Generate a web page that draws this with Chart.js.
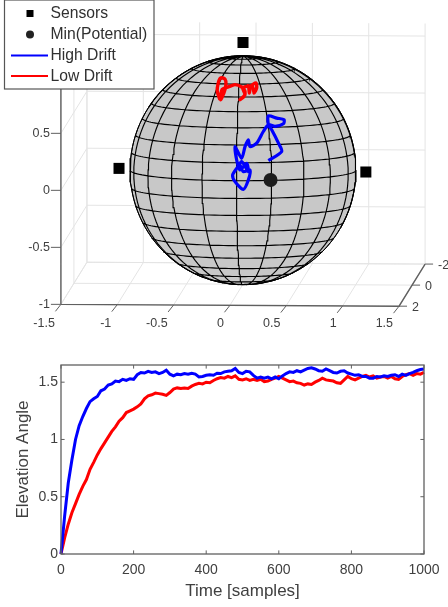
<!DOCTYPE html>
<html>
<head>
<meta charset="utf-8">
<script src="https://cdn.jsdelivr.net/npm/chart.js@4/dist/chart.umd.js"></script>
<style>
  html, body { margin: 0; background: #fff; }
  canvas { position: absolute; left: 0; }
  #sphereChart { top: 0; }
  #elevChart { top: 340px; }
</style>
</head>
<body>
<canvas id="sphereChart" width="448" height="340"></canvas>
<canvas id="elevChart" width="448" height="267"></canvas>
<script>
// Top panel: axis ticks
const X_TICKS = [-1.5, -1, -0.5, 0, 0.5, 1, 1.5];
const Y_TICKS = [-2, 0, 2];
const Z_TICKS = [-1, -0.5, 0, 0.5, 1];
const Z_TOP = 1.11;

// Mesh spacing of the sphere, degrees
const MERIDIAN_LONS = [-180,-162,-144,-126,-108,-90,-72,-54,-36,-18,0,18,36,54,72,90,108,126,144,162];
const PARALLEL_LATS = [-81,-72,-63,-54,-45,-36,-27,-18,-9,0,9,18,27,36,45,54,63,72,81];

// Sensors as x, y, z
const SENSOR_X = [-1.1, 0, 1.09];
const SENSOR_Y = [0, 0, 0];
const SENSOR_Z = [0.01, 1.12, -0.01];

// Paths on the sphere, read in the view plane
const HIGH_PATH_U = [.225,.343,.314,.254,.225,.225,.299,.364,.358,.284,.225,.180,.121,.062,.047,.018,-.012,-.071,-.056,-.027,.033,.047,-.012,-.056,-.092,-.071,.003,.047,.062,.003,-.027];
const HIGH_PATH_V = [.084,.163,.236,.353,.397,.475,.455,.440,.405,.382,.397,.338,.236,.206,.265,.206,.104,.206,.089,.002,.060,-.013,.075,.016,-.042,-.100,-.168,-.086,.002,-.013,.046];
const LOW_PATH_U = [-.204,-.228,-.219,-.198,-.160,-.151,-.169,-.198,-.186,-.130,-.071,-.012,.018,.009,-.027,.018,-.003,.047,.056,.068,.115,.121,.098,.086,.033];
const LOW_PATH_V = [.616,.689,.762,.806,.797,.747,.674,.616,.703,.727,.747,.727,.689,.645,.616,.660,.718,.733,.674,.733,.762,.718,.674,.727,.739];
const MIN_U = [0.244];
const MIN_V = [-0.086];

const LEGEND_LABELS = ["Sensors", "Min(Potential)", "High Drift", "Low Drift"];

// Bottom panel: one value every 10 samples
const SAMPLE_STEP = 10;
const HIGH_DRIFT = [0,.33,.62,.82,1.00,1.12,1.20,1.27,1.33,1.355,1.375,1.425,1.44,1.475,1.485,1.51,1.505,1.525,1.515,1.53,1.525,
  1.565,1.585,1.58,1.595,1.585,1.59,1.575,1.585,1.605,1.57,1.555,1.57,1.565,1.575,1.57,1.578,1.57,1.545,1.55,1.56,
  1.565,1.56,1.578,1.575,1.59,1.595,1.60,1.62,1.585,1.575,1.595,1.59,1.56,1.535,1.545,1.535,1.545,1.53,1.545,1.53,
  1.555,1.575,1.59,1.585,1.60,1.59,1.605,1.62,1.625,1.615,1.60,1.595,1.615,1.60,1.585,1.58,1.595,1.60,1.58,1.57,
  1.56,1.565,1.55,1.55,1.535,1.535,1.55,1.545,1.555,1.55,1.56,1.565,1.55,1.57,1.56,1.575,1.585,1.60,1.61,1.615];
const LOW_DRIFT = [0,.14,.26,.36,.44,.52,.59,.65,.74,.80,.865,.92,.97,1.02,1.07,1.11,1.16,1.19,1.235,1.25,1.265,
  1.285,1.31,1.355,1.38,1.39,1.405,1.40,1.395,1.385,1.41,1.44,1.45,1.445,1.45,1.445,1.465,1.48,1.49,1.485,1.50,
  1.495,1.515,1.53,1.54,1.535,1.55,1.54,1.555,1.525,1.52,1.53,1.515,1.525,1.515,1.525,1.505,1.51,1.525,1.535,1.55,
  1.535,1.52,1.505,1.51,1.495,1.49,1.475,1.485,1.48,1.50,1.515,1.535,1.52,1.515,1.51,1.495,1.49,1.52,1.55,1.53,
  1.52,1.535,1.55,1.56,1.545,1.555,1.535,1.545,1.55,1.535,1.55,1.53,1.525,1.55,1.565,1.575,1.56,1.575,1.57,1.585];
const TIME_TICKS = [0, 200, 400, 600, 800, 1000];
const ELEV_TICKS = [0, 0.5, 1, 1.5];

const FONT = '"Liberation Sans", Arial, sans-serif';
const TEXT_COLOR = "#404040";
const AXIS_COLOR = "#606060";
const GRID_COLOR = "#e4e4e4";

// MATLAB style orthographic view
const SA = 0.0577, CA = Math.sqrt(1 - SA * SA);
const SE = 0.0921, CE = Math.sqrt(1 - SE * SE);

function project(x, y, z) {
  return { x: x * CA - y * SA, y: -x * SA * SE - y * CA * SE + z * CE };
}
function facing(x, y, z) {
  return x * SA * CE + y * CA * CE + z * SE > 0;
}
const GAP = { x: NaN, y: NaN };
const rad = d => d * Math.PI / 180;

function meshPoints() {
  const pts = [];
  const add = (x, y, z) => {
    if (facing(x, y, z)) pts.push(project(x, y, z));
    else if (pts.length && !isNaN(pts[pts.length - 1].x)) pts.push(GAP);
  };
  MERIDIAN_LONS.forEach(lon => {
    for (let lat = -90; lat <= 90; lat += 3)
      add(Math.cos(rad(lat)) * Math.cos(rad(lon)), Math.cos(rad(lat)) * Math.sin(rad(lon)), Math.sin(rad(lat)));
    pts.push(GAP);
  });
  PARALLEL_LATS.forEach(lat => {
    for (let lon = -180; lon <= 180; lon += 3)
      add(Math.cos(rad(lat)) * Math.cos(rad(lon)), Math.cos(rad(lat)) * Math.sin(rad(lon)), Math.sin(rad(lat)));
    pts.push(GAP);
  });
  return pts;
}

function outlinePoints() {
  const pts = [];
  for (let t = 0; t <= 360; t += 3) pts.push({ x: Math.cos(rad(t)), y: Math.sin(rad(t)) });
  return pts;
}

function gridPoints() {
  const xMin = X_TICKS[0], xMax = X_TICKS[X_TICKS.length - 1];
  const yBack = Y_TICKS[0], yFront = Y_TICKS[Y_TICKS.length - 1];
  const zMin = Z_TICKS[0];
  const pts = [];
  const seg = (a, b) => pts.push(project(...a), project(...b), GAP);
  X_TICKS.forEach(x => {
    seg([x, yFront, zMin], [x, yBack, zMin]);
    seg([x, yBack, zMin], [x, yBack, Z_TOP]);
  });
  Y_TICKS.forEach(y => {
    seg([xMin, y, zMin], [xMax, y, zMin]);
    seg([xMin, y, zMin], [xMin, y, Z_TOP]);
  });
  Z_TICKS.forEach(z => {
    seg([xMin, yFront, z], [xMin, yBack, z]);
    seg([xMin, yBack, z], [xMax, yBack, z]);
  });
  return pts;
}

function lineSet(data, color, width, order, extra) {
  return Object.assign({
    data, showLine: true, borderColor: color, borderWidth: width,
    pointRadius: 0, spanGaps: false, order
  }, extra || {});
}

function zip(us, vs) {
  return us.map((u, i) => ({ x: u, y: vs[i] }));
}

const xMinT = X_TICKS[0], xMaxT = X_TICKS[X_TICKS.length - 1];
const yFrontT = Y_TICKS[Y_TICKS.length - 1];
const zMinT = Z_TICKS[0];

const axes3d = [
  project(xMinT, yFrontT, zMinT), project(xMinT, yFrontT, Z_TOP), GAP,
  project(xMinT, yFrontT, zMinT), project(xMaxT, yFrontT, zMinT),
  project(xMaxT, Y_TICKS[0], zMinT)
];

// Tick marks, labels and the legend of the top panel
const sphereDecor = {
  id: "sphereDecor",
  afterDatasetsDraw(chart) {
    const { ctx, scales } = chart;
    const px = p => [scales.x.getPixelForValue(p.x), scales.y.getPixelForValue(p.y)];
    ctx.save();
    ctx.font = `12.5px ${FONT}`;
    ctx.fillStyle = TEXT_COLOR;
    ctx.strokeStyle = AXIS_COLOR;
    ctx.lineWidth = 1;
    ctx.textBaseline = "middle";
    const tick = (x0, y0, x1, y1) => {
      ctx.beginPath(); ctx.moveTo(x0, y0); ctx.lineTo(x1, y1); ctx.stroke();
    };
    ctx.textAlign = "right";
    Z_TICKS.forEach(z => {
      const [a, b] = px(project(xMinT, yFrontT, z));
      tick(a, b, a - 10, b);
      ctx.fillText(String(z), a - 11, b + 0.5);
    });
    X_TICKS.forEach(x => {
      const [a, b] = px(project(x, yFrontT, zMinT));
      tick(a, b, a - 5.5, b + 7);
      ctx.fillText(String(x), a - 6, 324);
    });
    ctx.textAlign = "left";
    Y_TICKS.forEach(y => {
      const [a, b] = px(project(xMaxT, y, zMinT));
      tick(a, b, a + 8, b);
      ctx.fillText(String(y), a + 13, b + 1);
    });
    drawLegend(ctx);
    ctx.restore();
  }
};

function drawLegend(ctx) {
  const rows = [13.5, 34.5, 55.5, 76];
  ctx.fillStyle = "#fff";
  ctx.strokeStyle = "#555";
  ctx.lineWidth = 1.2;
  ctx.fillRect(4.5, 0, 149.5, 89);
  ctx.strokeRect(4.5, 0, 149.5, 89);
  ctx.font = `15.7px ${FONT}`;
  ctx.textAlign = "left";
  ctx.textBaseline = "middle";
  LEGEND_LABELS.forEach((label, i) => {
    ctx.fillStyle = "#303030";
    ctx.fillText(label, 50.5, rows[i] + 0.5);
  });
  ctx.fillStyle = "#000";
  ctx.fillRect(26.5, rows[0] - 3.5, 7, 7);
  ctx.beginPath();
  ctx.arc(30, rows[1], 4, 0, Math.PI * 2);
  ctx.fillStyle = "#222";
  ctx.fill();
  [["#0000ff", rows[2]], ["#ff0000", rows[3]]].forEach(([c, y]) => {
    ctx.strokeStyle = c;
    ctx.lineWidth = 1.8;
    ctx.beginPath(); ctx.moveTo(11, y); ctx.lineTo(48, y); ctx.stroke();
  });
}

new Chart(document.getElementById("sphereChart"), {
  type: "scatter",
  data: {
    datasets: [
      lineSet(gridPoints(), GRID_COLOR, 1, 9),
      lineSet(axes3d, AXIS_COLOR, 1.4, 8),
      lineSet(outlinePoints(), "#000", 1, 7, { fill: "shape", backgroundColor: "#c8c8c8" }),
      lineSet(meshPoints(), "#000", 1.15, 6),
      lineSet(outlinePoints(), "#000", 1, 5),
      {
        data: SENSOR_X.map((x, i) => project(x, SENSOR_Y[i], SENSOR_Z[i])),
        pointStyle: "rect", pointRadius: 7.8, pointBackgroundColor: "#000", pointBorderWidth: 0, order: 4
      },
      lineSet(zip(LOW_PATH_U, LOW_PATH_V), "#ff0000", 3.4, 3, { tension: 0.25 }),
      lineSet(zip(HIGH_PATH_U, HIGH_PATH_V), "#0000ff", 3.2, 2, { tension: 0.25 }),
      {
        data: zip(MIN_U, MIN_V),
        pointStyle: "circle", pointRadius: 7, pointBackgroundColor: "#1c1c1c", pointBorderWidth: 0, order: 1
      }
    ]
  },
  options: {
    responsive: false,
    animation: false,
    layout: { padding: 0, autoPadding: false },
    plugins: { legend: { display: false }, tooltip: { enabled: false } },
    scales: {
      x: { type: "linear", display: false, min: -2.1524, max: 1.8158 },
      y: { type: "linear", display: false, min: -1.483, max: 1.4865 }
    }
  },
  plugins: [sphereDecor]
});

// Box and inward ticks of the bottom panel
const elevBox = {
  id: "elevBox",
  afterDatasetsDraw(chart) {
    const { ctx, chartArea: a, scales } = chart;
    ctx.save();
    ctx.strokeStyle = AXIS_COLOR;
    ctx.lineWidth = 1.3;
    ctx.strokeRect(a.left, a.top, a.right - a.left, a.bottom - a.top);
    ctx.lineWidth = 1;
    ctx.beginPath();
    TIME_TICKS.forEach(t => {
      const x = scales.x.getPixelForValue(t);
      ctx.moveTo(x, a.bottom); ctx.lineTo(x, a.bottom - 3.6);
      ctx.moveTo(x, a.top); ctx.lineTo(x, a.top + 3.6);
    });
    ELEV_TICKS.forEach(v => {
      const y = scales.y.getPixelForValue(v);
      ctx.moveTo(a.left, y); ctx.lineTo(a.left + 3.6, y);
      ctx.moveTo(a.right, y); ctx.lineTo(a.right - 3.6, y);
    });
    ctx.stroke();
    ctx.restore();
  }
};

const series = vals => vals.map((v, i) => ({ x: i * SAMPLE_STEP, y: v }));
const fixedTicks = list => scale => { scale.ticks = list.map(value => ({ value })); };
const tickFont = { family: FONT, size: 14 };
const titleFont = { family: FONT, size: 17 };

new Chart(document.getElementById("elevChart"), {
  type: "scatter",
  data: {
    datasets: [
      lineSet(series(HIGH_DRIFT), "#0000ff", 3, 1, { clip: false }),
      lineSet(series(LOW_DRIFT), "#ff0000", 3, 2, { clip: false })
    ]
  },
  options: {
    responsive: false,
    animation: false,
    layout: { padding: { top: 25, right: 24, left: 0, bottom: 0 }, autoPadding: false },
    plugins: { legend: { display: false }, tooltip: { enabled: false } },
    scales: {
      x: {
        type: "linear", min: 0, max: 1000,
        afterBuildTicks: fixedTicks(TIME_TICKS),
        afterFit: s => { s.height = 53; },
        grid: { display: false, drawTicks: false },
        border: { display: false },
        ticks: { color: TEXT_COLOR, font: tickFont, padding: 8, maxRotation: 0, callback: v => String(v) },
        title: { display: true, text: "Time [samples]", color: TEXT_COLOR, font: titleFont, padding: { top: 0, bottom: 5 } }
      },
      y: {
        type: "linear", min: 0, max: 1.65,
        afterBuildTicks: fixedTicks(ELEV_TICKS),
        afterFit: s => { s.width = 61; },
        grid: { display: false, drawTicks: false },
        border: { display: false },
        ticks: { color: TEXT_COLOR, font: tickFont, padding: 3, callback: v => String(v) },
        title: { display: true, text: "Elevation Angle", color: TEXT_COLOR, font: titleFont, padding: { top: 13, bottom: 0 } }
      }
    }
  },
  plugins: [elevBox]
});
</script>
</body>
</html>
